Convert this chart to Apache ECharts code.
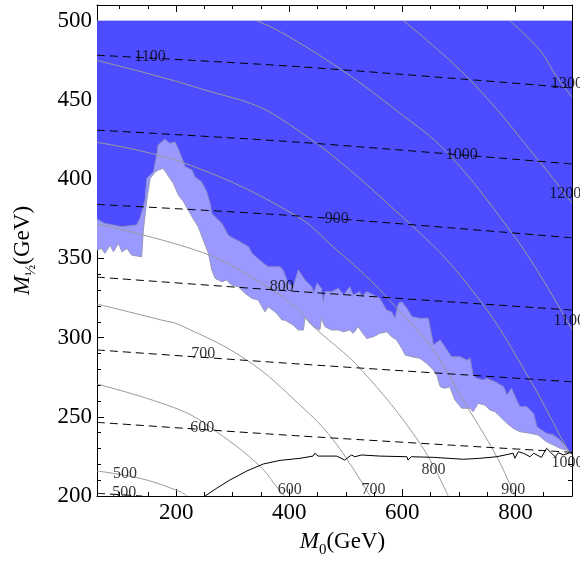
<!DOCTYPE html>
<html>
<head>
    <meta charset="utf-8">
    <title>M0 - M1/2 plane</title>
    <script src="https://cdn.jsdelivr.net/npm/echarts@6/dist/echarts.min.js"></script>
    <style>
        html, body { margin: 0; padding: 0; background: #fff; }
        #main { width: 580px; height: 563px; }
    </style>
</head>
<body>
<div id="main"></div>
<script type="text/javascript">
    // axis ranges and ticks
    var xMin = 60, xMax = 900, yMin = 200, yMax = 510, blueTop = 500;
    var xMajor = [200, 400, 600, 800];
    var xMinor = [100, 150, 250, 300, 350, 450, 500, 550, 650, 700, 750, 850, 900];
    var yMajor = [200, 250, 300, 350, 400, 450, 500];
    var yMinor = [210, 220, 230, 240, 260, 270, 280, 290, 310, 320, 330, 340, 360, 370, 380, 390,
                  410, 420, 430, 440, 460, 470, 480, 490, 510];

    // edge of the dark blue region
    var darkEdge = [[60,374.8],[74,372.1],[104,370],[130,371.1],[136,375.3],[145,386.8],[148,400.5],
        [160,404.7],[166,416.3],[168,421.6],[180,425.3],[189,422.6],[198,423.6],[207,416.3],[216,407.9],
        [228,405.8],[233,401.5],[245,398.4],[254,392.1],[260,384.8],[263,378.4],[281,372.1],[292,364.7],
        [301,362.7],[313,360.5],[328,357.4],[334,353.2],[351,347.9],[363,344.7],[384,344.7],[389,342.7],
        [398,334.3],[407,332.1],[416,342.7],[428,336.3],[440,332.1],[443,327.9],[449,334.3],[457,331.1],
        [460,322.6],[463,329],[475,329],[487,331.1],[496,326.9],[507,332.1],[513,326.9],[525,329],
        [528,325.8],[537,329],[549,326.9],[560,324.8],[572,317.4],[581,316.3],[587,312.2],[593,321.6],
        [599,322.6],[608,318.5],[617,313.2],[631,312.2],[646,312.2],[655,295.3],[667,298.5],[687,287.9],
        [702,287.9],[714,285.8],[720,286.9],[725,276.4],[731,274.3],[743,273.2],[749,274.3],[764,272.1],
        [779,269],[785,263.8],[793,268],[802,260.6],[808,256.4],[820,256.4],[832,252.2],[838,243.7],
        [846,241.7],[855,239.6],[867,238.5],[879,235.3],[888,231.6],[895,228.4],[900,227.1]];

    // edge between the light blue band and the white area
    var lightEdge = [[60,355.3],[68,356.3],[74,353.2],[83,358.4],[89,354.2],[98,359.5],[104,354.2],
        [113,356.3],[121,352.1],[139,351],[142,367.9],[148,386.8],[154,400.5],[163,404.7],[171,406.2],
        [177,406.8],[183,403.7],[195,397.4],[204,390],[213,385.8],[228,376.3],[239,370],[248,361.6],
        [257,353.2],[263,342.7],[269,337.4],[281,335.3],[289,336.3],[298,333.2],[310,332.1],[322,327.9],
        [334,324.8],[345,323.7],[357,316.3],[363,319.5],[378,315.3],[387,311.1],[392,311.1],[407,307.9],
        [416,304.8],[425,304.8],[428,313.2],[434,310],[443,306.9],[454,304.8],[457,312.2],[463,306.9],
        [475,304.8],[487,304.8],[496,303.7],[507,304.8],[513,302.7],[522,306.9],[528,303.7],[537,299.5],
        [549,300.6],[560,302.7],[572,303.7],[581,300.6],[590,298.5],[599,293.2],[605,289],[617,287.9],
        [631,286.9],[643,283.8],[655,279.5],[661,276.4],[667,269],[675,268],[684,269],[693,260.6],
        [705,255.4],[720,255.4],[725,253.2],[734,258.5],[746,257.4],[755,254.3],[764,253.2],[773,250.1],
        [785,245.9],[796,242.7],[808,240.6],[826,239.6],[840,238.5],[855,234.3],[867,232.2],[879,230.1],
        [891,229],[900,227.1]];

    // grey solid contours
    var grey500 = [[60,215.8],[141,210.7],[207,202.7],[219,200]];
    var grey600 = [[60,270.7],[207,254.3],[272,240.4],[348,218.9],[378,205.7],[391,200]];
    var grey700 = [[60,321.2],[174,311.1],[207,307.9],[325,285.8],[419,257.4],[478,235.3],[543,200]];
    var grey800 = [[60,371.7],[251,353.2],[351,334.3],[410,319.5],[443,306.9],[525,280.6],[631,233.3],[681,200]];
    var grey900 = [[60,423.3],[216,410],[410,377.4],[484,355.3],[543,336.3],[596,316.3],[655,292.2],
        [702,263.8],[767,224.8],[799,200]];
    var grey1000 = [[60,475],[242,457.3],[384,438.4],[619,370],[734,325],[826,273.2],[891,230.1],[900,225.9]];
    var grey1100 = [[342,500],[384,493.1],[493,468.9],[596,441.6],[678,417.3],[790,367.9],[849,336.3],[900,304.8]];
    var grey1200 = [[602,500],[720,462.6],[843,411],[900,384.9]];
    var grey1300 = [[790,500],[843,481.5],[873,464.7],[900,451.9]];
    var greyLabels = [[109.5,214.3,'500'],[401,203.8,'600'],[549,203.8,'700'],[655,216.4,'800'],
        [796,203.8,'900'],[892,221,'1000'],[895,310.7,'1100'],[888,390.6,'1200'],[891,460.5,'1300']];

    // dashed contours
    var dash500 = [[60,201.7],[140,200]];
    var dash600 = [[60,246.5],[419,237.9],[900,227.6]];
    var dash700 = [[60,292.2],[419,283.3],[900,272.1]];
    var dash800 = [[60,338.2],[379,330],[900,317.4]];
    var dash900 = [[60,384.1],[419,376.7],[900,363]];
    var dash1000 = [[60,431],[419,423.3],[900,409.6]];
    var dash1100 = [[60,478.3],[419,471],[900,457.7]];
    var dashLabels = [[153.7,477.1,'1100'],[705,415.2,'1000'],[484,374.8,'900'],[386.6,332.1,'800'],
        [248,289.6,'700'],[246,243.1,'600'],[108.3,202.1,'500']];

    // black solid line near the bottom
    var blackLine = [[251,200],[272,205],[295,210.1],[325,215.8],[354,220.2],[384,222.5],[419,223.8],
        [442,225.2],[445,227],[451,225.2],[484,225.2],[498,222.7],[510,225.9],[516,224.8],[528,225.9],
        [560,225.2],[608,224.8],[610,222.7],[616,224.8],[655,224.4],[708,223.2],[737,223.8],[767,224.8],
        [796,227],[799,223.8],[805,228],[814,227],[826,224.8],[832,227],[846,224.4],[855,230.1],[864,227],
        [870,224.8],[876,227.3],[885,225.9],[896,227.3],[900,227]];

    var serif = 'Liberation Serif';
    var myChart = echarts.init(document.getElementById('main'));

    function regionRender(edge, color) {
        return function (params, api) {
            var pts = edge.map(function (p) { return api.coord(p); });
            pts.push(api.coord([xMax, blueTop]));
            pts.push(api.coord([xMin, blueTop]));
            return { type: 'polygon', shape: { points: pts }, style: { fill: color } };
        };
    }

    function lineSeries(data, style, smooth) {
        return {
            type: 'line', data: data, showSymbol: false, symbol: 'none', smooth: smooth || false,
            clip: true, silent: true, lineStyle: style, z: 3
        };
    }

    function labelSeries(data) {
        return {
            type: 'scatter', data: data, symbolSize: 0, silent: true, z: 5,
            label: {
                show: true, position: 'inside', color: '#000', fontFamily: serif, fontSize: 16,
                formatter: function (p) { return p.value[2]; }
            }
        };
    }

    var nameRich = {
        m: { fontFamily: serif, fontStyle: 'italic', fontSize: 23, color: '#000', verticalAlign: 'bottom', padding: [0, 0, 5, 0] },
        s: { fontFamily: serif, fontSize: 15, color: '#000', verticalAlign: 'bottom' },
        n: { fontFamily: serif, fontSize: 23, color: '#000', verticalAlign: 'bottom', padding: [0, 0, 5, 0] }
    };

    function xAxisOf(pos, ticks, len, withLabel, showLine) {
        return {
            type: 'value', min: xMin, max: xMax, position: pos,
            axisLine: { show: showLine, onZero: false, lineStyle: { color: '#000', width: 1 } },
            axisTick: { show: true, inside: true, length: len, customValues: ticks, lineStyle: { color: '#000' } },
            axisLabel: { show: withLabel, customValues: ticks, margin: 5, color: '#000', fontFamily: serif, fontSize: 23 },
            splitLine: { show: false }
        };
    }
    function yAxisOf(pos, ticks, len, withLabel, showLine) {
        return {
            type: 'value', min: yMin, max: yMax, position: pos,
            axisLine: { show: showLine, onZero: false, lineStyle: { color: '#000', width: 1 } },
            axisTick: { show: true, inside: true, length: len, customValues: ticks, lineStyle: { color: '#000' } },
            axisLabel: { show: withLabel, customValues: ticks, margin: 5, color: '#000', fontFamily: serif, fontSize: 23 },
            splitLine: { show: false }
        };
    }

    var xBottom = xAxisOf('bottom', xMajor, 7, true, true);
    xBottom.name = '{m|M}{s|0}{n|(GeV)}';
    xBottom.nameLocation = 'middle';
    xBottom.nameGap = 34;
    xBottom.nameTextStyle = { rich: nameRich, padding: [0, 0, 0, 16] };

    var yLeft = yAxisOf('left', yMajor, 7, true, true);
    yLeft.name = '{m|M}{s|½}{n|(GeV)}';
    yLeft.nameLocation = 'middle';
    yLeft.nameGap = 58;
    yLeft.nameTextStyle = { rich: nameRich };

    var option = {
        animation: false,
        backgroundColor: '#fff',
        grid: { left: 97, right: 8, top: 5, bottom: 67, containLabel: false, outerBoundsMode: 'none' },
        xAxis: [
            xBottom,
            xAxisOf('bottom', xMinor, 4, false, false),
            xAxisOf('top', xMajor, 7, false, true),
            xAxisOf('top', xMinor, 4, false, false)
        ],
        yAxis: [
            yLeft,
            yAxisOf('left', yMinor, 4, false, false),
            yAxisOf('right', yMajor, 7, false, true),
            yAxisOf('right', yMinor, 4, false, false)
        ],
        series: [
            { type: 'custom', data: [[xMin, blueTop]], renderItem: regionRender(lightEdge, '#9999ff'), silent: true, z: 1 },
            { type: 'custom', data: [[xMin, blueTop]], renderItem: regionRender(darkEdge, '#4d4dff'), silent: true, z: 2 },
            lineSeries(lightEdge, { color: '#9797bd', width: 1 }),
            lineSeries(darkEdge, { color: '#8a8ac4', width: 1 }),
            lineSeries(grey500, { color: '#9a9a9a', width: 1 }, 0.4),
            lineSeries(grey600, { color: '#9a9a9a', width: 1 }, 0.4),
            lineSeries(grey700, { color: '#9a9a9a', width: 1 }, 0.4),
            lineSeries(grey800, { color: '#9a9a9a', width: 1 }, 0.4),
            lineSeries(grey900, { color: '#9a9a9a', width: 1 }, 0.4),
            lineSeries(grey1000, { color: '#9a9a9a', width: 1 }, 0.4),
            lineSeries(grey1100, { color: '#9a9a9a', width: 1 }, 0.4),
            lineSeries(grey1200, { color: '#9a9a9a', width: 1 }, 0.4),
            lineSeries(grey1300, { color: '#9a9a9a', width: 1 }, 0.4),
            lineSeries(dash500, { color: '#000', width: 1, type: [8, 5] }, 0.3),
            lineSeries(dash600, { color: '#000', width: 1, type: [8, 5] }, 0.3),
            lineSeries(dash700, { color: '#000', width: 1, type: [8, 5] }, 0.3),
            lineSeries(dash800, { color: '#000', width: 1, type: [8, 5] }, 0.3),
            lineSeries(dash900, { color: '#000', width: 1, type: [8, 5] }, 0.3),
            lineSeries(dash1000, { color: '#000', width: 1, type: [8, 5] }, 0.3),
            lineSeries(dash1100, { color: '#000', width: 1, type: [8, 5] }, 0.3),
            lineSeries(blackLine, { color: '#000', width: 1 }),
            labelSeries(greyLabels),
            labelSeries(dashLabels)
        ]
    };
    myChart.setOption(option);
</script>
</body>
</html>
